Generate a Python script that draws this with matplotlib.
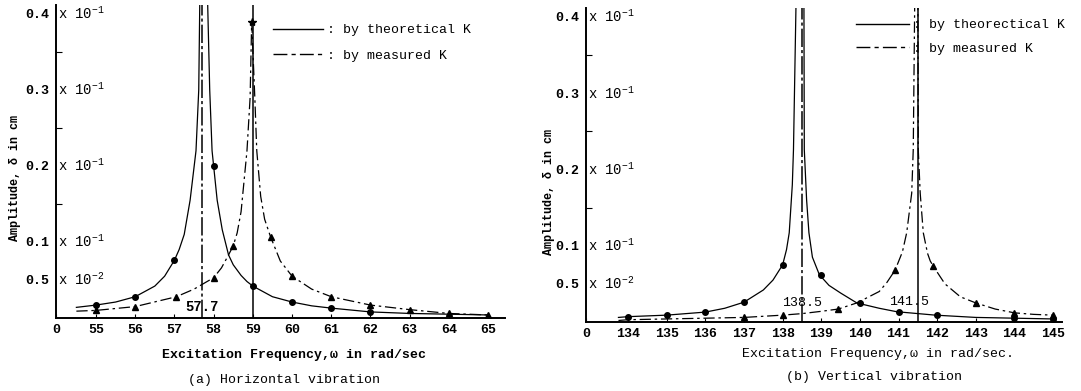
import numpy as np
import matplotlib
matplotlib.use('Agg')
import matplotlib.pyplot as plt
from matplotlib.lines import Line2D

plt.rcParams['font.family'] = ['Liberation Mono', 'DejaVu Sans Mono']
plt.rcParams['mathtext.fontset'] = 'custom'
plt.rcParams['mathtext.rm'] = 'Liberation Mono'

# amplitudes in units of 1e-2 cm

# (a) horizontal vibration
h_theory_x1 = [54.5, 55.0, 55.5, 56.0, 56.5, 56.75, 57.0, 57.12, 57.25, 57.4, 57.55, 57.62, 57.65]
h_theory_y1 = [0.14, 0.17, 0.21, 0.28, 0.42, 0.55, 0.76, 0.90, 1.10, 1.55, 2.20, 3.00, 4.30]
h_theory_x2 = [57.84, 57.9, 57.96, 58.0, 58.09, 58.22, 58.38, 58.5, 58.7, 58.85, 59.0, 59.5, 60.0, 60.5, 61.0, 62.0, 63.0, 64.0, 65.0]
h_theory_y2 = [4.30, 3.00, 2.20, 2.00, 1.55, 1.16, 0.83, 0.70, 0.56, 0.48, 0.42, 0.28, 0.21, 0.16, 0.13, 0.08, 0.06, 0.05, 0.04]
h_meas_x1 = [54.5, 55.0, 56.0, 57.05, 57.5, 58.0, 58.2, 58.38, 58.5, 58.6, 58.7, 58.85, 58.93, 58.97]
h_meas_y1 = [0.09, 0.10, 0.15, 0.28, 0.38, 0.53, 0.66, 0.83, 0.95, 1.12, 1.40, 2.20, 2.90, 3.90]
h_meas_x2 = [58.97, 59.05, 59.1, 59.2, 59.3, 59.45, 59.7, 60.0, 60.5, 61.0, 62.0, 63.0, 64.0, 65.0]
h_meas_y2 = [3.90, 2.90, 2.20, 1.60, 1.30, 1.07, 0.75, 0.55, 0.38, 0.28, 0.17, 0.11, 0.06, 0.04]
h_theory_pts_x = [55, 56, 57, 58, 59, 60, 61, 62]
h_theory_pts_y = [0.17, 0.28, 0.76, 2.00, 0.42, 0.21, 0.13, 0.08]
h_meas_pts_x = [55, 56, 57.05, 58, 58.5, 59.45, 60, 61, 62, 63, 64, 65]
h_meas_pts_y = [0.10, 0.15, 0.28, 0.53, 0.95, 1.07, 0.55, 0.28, 0.17, 0.11, 0.06, 0.04]
h_peak_theory = 57.7
h_peak_meas = 59.0
h_ticks = [55, 56, 57, 58, 59, 60, 61, 62, 63, 64, 65]

# (b) vertical vibration
v_theory_x1 = [133.75, 134.0, 135.0, 136.0, 136.5, 137.0, 137.5, 137.75, 138.0, 138.1, 138.17, 138.25, 138.28, 138.35]
v_theory_y1 = [0.06, 0.07, 0.09, 0.13, 0.18, 0.26, 0.42, 0.55, 0.75, 0.95, 1.17, 1.80, 2.26, 4.30]
v_theory_x2 = [138.55, 138.56, 138.62, 138.68, 138.77, 138.95, 139.2, 139.5, 139.92, 140.5, 140.95, 141.95, 143.0, 144.0, 145.0]
v_theory_y2 = [4.30, 2.26, 1.60, 1.17, 0.85, 0.62, 0.48, 0.38, 0.25, 0.18, 0.135, 0.09, 0.06, 0.05, 0.04]
v_meas_x1 = [133.75, 134.0, 135.0, 136.0, 137.0, 138.0, 138.5, 139.0, 139.44, 139.92, 140.5, 140.7, 140.91, 141.1, 141.21, 141.34, 141.38, 141.42]
v_meas_y1 = [0.02, 0.03, 0.04, 0.05, 0.06, 0.09, 0.11, 0.14, 0.17, 0.25, 0.40, 0.52, 0.68, 0.92, 1.17, 1.69, 2.26, 4.30]
v_meas_x2 = [141.5, 141.51, 141.56, 141.64, 141.75, 141.82, 141.9, 142.2, 142.6, 143.0, 143.5, 144.0, 144.5, 145.0]
v_meas_y2 = [4.30, 2.26, 1.69, 1.17, 0.90, 0.80, 0.73, 0.50, 0.33, 0.25, 0.17, 0.12, 0.10, 0.09]
v_theory_pts_x = [134, 135, 136, 137, 138, 139, 140, 141, 142, 144, 145]
v_theory_pts_y = [0.07, 0.09, 0.13, 0.26, 0.75, 0.62, 0.25, 0.135, 0.09, 0.05, 0.04]
v_meas_pts_x = [137, 138, 139.44, 140.91, 141.9, 143, 144, 145]
v_meas_pts_y = [0.06, 0.09, 0.17, 0.68, 0.73, 0.25, 0.12, 0.09]
v_peak_theory = 138.5
v_peak_meas = 141.5
v_ticks = [134, 135, 136, 137, 138, 139, 140, 141, 142, 143, 144, 145]

y_ticks = [0.5, 1, 2, 3, 4]
y_labels = ['0.5', '0.1', '0.2', '0.3', '0.4']
y_exps = ['x 10$^{-2}$', 'x 10$^{-1}$', 'x 10$^{-1}$', 'x 10$^{-1}$', 'x 10$^{-1}$']

DASHDOT = (0, (9, 3, 2, 3))
W, H = 1081, 391

fig = plt.figure(figsize=(10.81, 3.91), dpi=100)


def setup_axes(ax, xlim, ticks, ylabel_xy):
    ax.set_xlim(*xlim)
    ax.set_ylim(0, 4.12)
    for s in ['top', 'right']:
        ax.spines[s].set_visible(False)
    for s in ['left', 'bottom']:
        ax.spines[s].set_linewidth(1.4)
    ax.set_xticks([xlim[0]] + ticks)
    ax.set_xticklabels(['0'] + [str(t) for t in ticks], fontweight='bold', fontsize=9.5)
    ax.tick_params(axis='x', direction='in', length=3, width=0.8, pad=4)
    ax.set_yticks(y_ticks)
    ax.set_yticklabels(y_labels, fontweight='bold', fontsize=9.5)
    ax.set_yticks([1.5, 2.5, 3.5], minor=True)
    ax.tick_params(axis='y', which='major', length=0, pad=5)
    ax.tick_params(axis='y', which='minor', direction='in', length=4, width=0.8)
    tr = ax.get_yaxis_transform()
    for yv, ex in zip(y_ticks, y_exps):
        ax.text(0.004, yv, ex, transform=tr, ha='left', va='center', fontsize=10)
    fig.text(ylabel_xy[0] / W, 1 - ylabel_xy[1] / H, 'Amplitude, δ in cm',
             rotation=90, ha='center', va='center', fontsize=8.5, fontweight='bold')


def draw_panel(ax, th1, th2, me1, me2, th_pts, me_pts, peak_th, peak_me):
    kw = dict(color='black', lw=0.9)
    ax.plot(th1[0], th1[1], '-', **kw)
    ax.plot(th2[0], th2[1], '-', **kw)
    ax.plot(me1[0], me1[1], linestyle=DASHDOT, **kw)
    ax.plot(me2[0], me2[1], linestyle=DASHDOT, **kw)
    ax.plot(th_pts[0], th_pts[1], 'o', color='black', ms=4, mfc='black')
    ax.plot(me_pts[0], me_pts[1], '^', color='black', ms=4, mfc='black')
    ax.axvline(peak_th, color='black', lw=1.1, linestyle=(0, (12, 2, 2, 2)))
    ax.axvline(peak_me, color='black', lw=1.1)


# (a) Horizontal vibration
ax1 = fig.add_axes([56 / W, 1 - 318 / H, 449 / W, 4.12 * 76 / H])
setup_axes(ax1, (53.98, 65.43), h_ticks, (15, 178))
draw_panel(ax1, (h_theory_x1, h_theory_y1), (h_theory_x2, h_theory_y2),
           (h_meas_x1, h_meas_y1), (h_meas_x2, h_meas_y2),
           (h_theory_pts_x, h_theory_pts_y), (h_meas_pts_x, h_meas_pts_y),
           h_peak_theory, h_peak_meas)
ax1.plot([h_meas_x1[-1]], [h_meas_y1[-1]], '*', color='black', ms=6)
ax1.text(h_peak_theory, 0.15, '57.7', ha='center', va='center', fontsize=10, fontweight='bold')

handles = [Line2D([], [], color='black', lw=1.0),
           Line2D([], [], color='black', lw=1.0, linestyle=(0, (10, 3, 3, 3)))]
ax1.legend(handles, [': by theoretical K', ': by measured K'], loc='upper left',
           bbox_to_anchor=(273 / W, 1 - 24 / H), bbox_transform=fig.transFigure,
           frameon=False, fontsize=9.5, handlelength=3.8, handletextpad=0.3,
           labelspacing=1.0, borderpad=0, borderaxespad=0)

fig.text(294 / W, 1 - 355 / H, 'Excitation Frequency,ω in rad/sec',
         ha='center', va='center', fontsize=9.5, fontweight='bold')
fig.text(284 / W, 1 - 380 / H, '(a) Horizontal vibration',
         ha='center', va='center', fontsize=9.5)

# (b) Vertical vibration
ax2 = fig.add_axes([586 / W, 1 - 322 / H, 476 / W, 4.12 * 76.25 / H])
setup_axes(ax2, (132.91, 145.23), v_ticks, (549, 192))
draw_panel(ax2, (v_theory_x1, v_theory_y1), (v_theory_x2, v_theory_y2),
           (v_meas_x1, v_meas_y1), (v_meas_x2, v_meas_y2),
           (v_theory_pts_x, v_theory_pts_y), (v_meas_pts_x, v_meas_pts_y),
           v_peak_theory, v_peak_meas)
ax2.text(v_peak_theory, 0.25, '138.5', ha='center', va='center', fontsize=9.5)
ax2.text(v_peak_meas - 0.23, 0.26, '141.5', ha='center', va='center', fontsize=9.5)

ax2.legend(handles, [': by theorectical K', ': by measured K'], loc='upper left',
           bbox_to_anchor=(856 / W, 1 - 19 / H), bbox_transform=fig.transFigure,
           frameon=False, fontsize=9.5, handlelength=4.0, handletextpad=0.3,
           labelspacing=0.85, borderpad=0, borderaxespad=0)

fig.text(878 / W, 1 - 354 / H, 'Excitation Frequency,ω in rad/sec.',
         ha='center', va='center', fontsize=9.5)
fig.text(874 / W, 1 - 377 / H, '(b) Vertical vibration',
         ha='center', va='center', fontsize=9.5)

fig.savefig('out.png', dpi=100)
